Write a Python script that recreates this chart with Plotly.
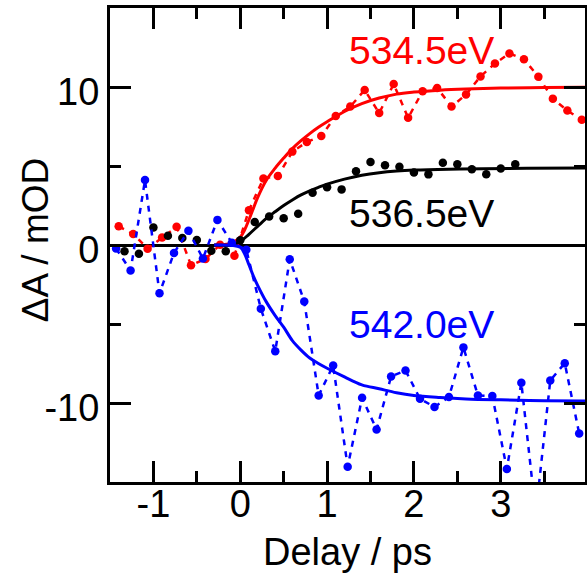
import plotly.graph_objects as go

# ---- data ----
red_x = [-1.4, -1.233, -1.067, -0.9, -0.733, -0.567, -0.4, -0.233, -0.067, 0.1, 0.267, 0.433,
         0.6, 0.767, 0.933, 1.1, 1.267, 1.433, 1.6, 1.767, 1.933, 2.1, 2.267, 2.433, 2.6,
         2.767, 2.933, 3.1, 3.267, 3.433, 3.6, 3.767, 3.933]
red_y = [1.18, 0.69, -0.23, 0.48, 1.15, -1.28, -0.88, 0.02, -0.68, 2.20, 4.21, 4.36,
         5.91, 6.52, 6.90, 8.16, 8.76, 9.81, 8.35, 10.19, 8.05, 9.73, 9.94, 8.76, 9.52,
         10.67, 11.49, 12.12, 11.76, 10.65, 9.25, 8.51, 7.92]

black_x = [-1.333, -1.167, -1.0, -0.833, -0.667, -0.5, -0.333, -0.167, 0.0, 0.167, 0.333, 0.5,
           0.667, 0.833, 1.0, 1.167, 1.333, 1.5, 1.667, 1.833, 2.0, 2.167, 2.333, 2.5,
           2.667, 2.833, 3.0, 3.167]
black_y = [-0.40, -0.55, 1.11, 0.58, 0.44, 0.31, -0.36, -0.40, 0.30, 1.45, 1.80, 1.70,
           1.98, 3.31, 3.65, 3.52, 4.67, 5.26, 5.05, 4.95, 4.59, 4.47, 5.20, 5.11,
           4.80, 4.48, 4.84, 5.11]

blue_x = [-1.43, -1.263, -1.097, -0.93, -0.763, -0.597, -0.43, -0.263, -0.097, 0.07, 0.237, 0.403,
          0.57, 0.737, 0.903, 1.07, 1.237, 1.403, 1.57, 1.737, 1.903, 2.07, 2.237, 2.403,
          2.57, 2.737, 2.903, 3.07, 3.237, 3.403, 3.57, 3.737, 3.903]
blue_y = [-0.22, -1.62, 4.11, -3.06, -0.50, 0.90, -0.86, 1.59, 0.14, -0.30, -4.03, -6.73,
          -0.90, -3.58, -9.52, -7.63, -14.03, -9.67, -11.68, -8.32, -7.94, -9.73, -10.25, -9.62,
          -6.48, -9.52, -9.56, -14.17, -8.72, -17.0, -8.57, -7.48, -11.93]

# fit curves
red_fit_x = [-0.3, -0.2, -0.1, 0.0, 0.05, 0.1, 0.15, 0.2, 0.3, 0.4, 0.5, 0.6, 0.7, 0.8, 0.9,
             1.0, 1.2, 1.4, 1.6, 1.8, 2.0, 2.3, 2.6, 3.0, 3.5, 4.0]
red_fit_y = [0.0, 0.02, 0.12, 0.5, 0.95, 1.6, 2.3, 3.0, 4.1, 4.85, 5.5, 6.1, 6.6, 7.05, 7.45,
             7.8, 8.45, 8.95, 9.3, 9.55, 9.68, 9.8, 9.87, 9.93, 9.97, 9.98]

black_fit_x = [-0.3, -0.1, 0.0, 0.1, 0.2, 0.3, 0.4, 0.5, 0.6, 0.7, 0.8, 0.9, 1.0, 1.2, 1.4,
               1.6, 1.8, 2.0, 2.4, 2.8, 3.3, 4.0]
black_fit_y = [0.0, 0.02, 0.22, 0.68, 1.18, 1.68, 2.1, 2.5, 2.85, 3.17, 3.43, 3.65, 3.85, 4.17, 4.42,
               4.58, 4.68, 4.74, 4.8, 4.83, 4.85, 4.87]

blue_fit_x = [-0.3, -0.1, 0.0, 0.05, 0.1, 0.15, 0.2, 0.3, 0.4, 0.5, 0.6, 0.7, 0.8, 0.9, 1.0,
              1.2, 1.4, 1.6, 1.8, 2.0, 2.3, 2.6, 3.0, 3.5, 4.0]
blue_fit_y = [0.0, -0.02, -0.15, -0.55, -1.25, -1.95, -2.55, -3.6, -4.45, -5.2, -6.05, -6.65,
              -7.15, -7.5, -7.8, -8.35, -8.85, -9.1, -9.35, -9.52, -9.65, -9.74, -9.8, -9.85, -9.88]

labels = ["534.5eV", "536.5eV", "542.0eV"]
label_x = [2.09, 2.09, 2.09]
label_y = [12.3, 1.98, -5.01]

x_tickvals = [-1, 0, 1, 2, 3]
x_ticktext = ["-1", "0", "1", "2", "3"]
y_tickvals = [-10, 0, 10]
y_ticktext = ["-10", "0", "10"]

RED = "#ff0000"
BLACK = "#000000"
BLUE = "#0000ff"
FONT = "Liberation Sans, Arial, sans-serif"

fig = go.Figure()
series = [
    (red_x, red_y, red_fit_x, red_fit_y, RED, True),
    (black_x, black_y, black_fit_x, black_fit_y, BLACK, False),
    (blue_x, blue_y, blue_fit_x, blue_fit_y, BLUE, True),
]
for dx, dy, fx, fy, col, dotted in series:
    fig.add_trace(go.Scatter(
        x=dx, y=dy, mode="lines+markers" if dotted else "markers",
        line=dict(color=col, width=2.5, dash="6px,6px"),
        marker=dict(color=col, size=8.5),
        showlegend=False, cliponaxis=True))
    fig.add_trace(go.Scatter(
        x=fx, y=fy, mode="lines", line=dict(color=col, width=3, shape="spline"),
        showlegend=False))

for t, lx, ly, col in zip(labels, label_x, label_y, [RED, BLACK, BLUE]):
    fig.add_annotation(x=lx, y=ly, xref="x", yref="y", text=t, showarrow=False,
                       font=dict(family=FONT, size=39, color=col),
                       xanchor="center", yanchor="middle")

# y-axis title as a rotated annotation (placed to match the reference)
fig.add_annotation(x=-0.158, y=0.512, xref="paper", yref="paper", text="ΔA / mOD",
                   textangle=-90, showarrow=False, xanchor="center", yanchor="middle",
                   font=dict(family=FONT, size=37, color="black"))

axis_common = dict(showline=True, linewidth=3, linecolor="black", mirror="ticks",
                   ticks="inside", ticklen=21, tickwidth=3, tickcolor="black",
                   showgrid=False, tickfont=dict(family=FONT, size=38, color="black"))

fig.update_xaxes(range=[-1.5, 3.97], tickvals=x_tickvals, ticktext=x_ticktext,
                 zeroline=False, ticklabelstandoff=-14,
                 minor=dict(dtick=0.5, tick0=0, ticks="inside", ticklen=11, tickwidth=3,
                            tickcolor="black", showgrid=False),
                 title=dict(text="Delay / ps", font=dict(family=FONT, size=38, color="black"),
                            standoff=15),
                 **axis_common)
fig.update_yaxes(range=[-15, 15], tickvals=y_tickvals, ticktext=y_ticktext,
                 zeroline=True, zerolinecolor="black", zerolinewidth=3,
                 ticklabelshift=5,
                 minor=dict(dtick=5, tick0=0, ticks="inside", ticklen=11, tickwidth=3,
                            tickcolor="black", showgrid=False),
                 **axis_common)

fig.update_layout(width=587, height=582,
                  margin=dict(l=110, r=2, t=8, b=100, autoexpand=False),
                  paper_bgcolor="white", plot_bgcolor="white")

fig.write_html("out.html")
